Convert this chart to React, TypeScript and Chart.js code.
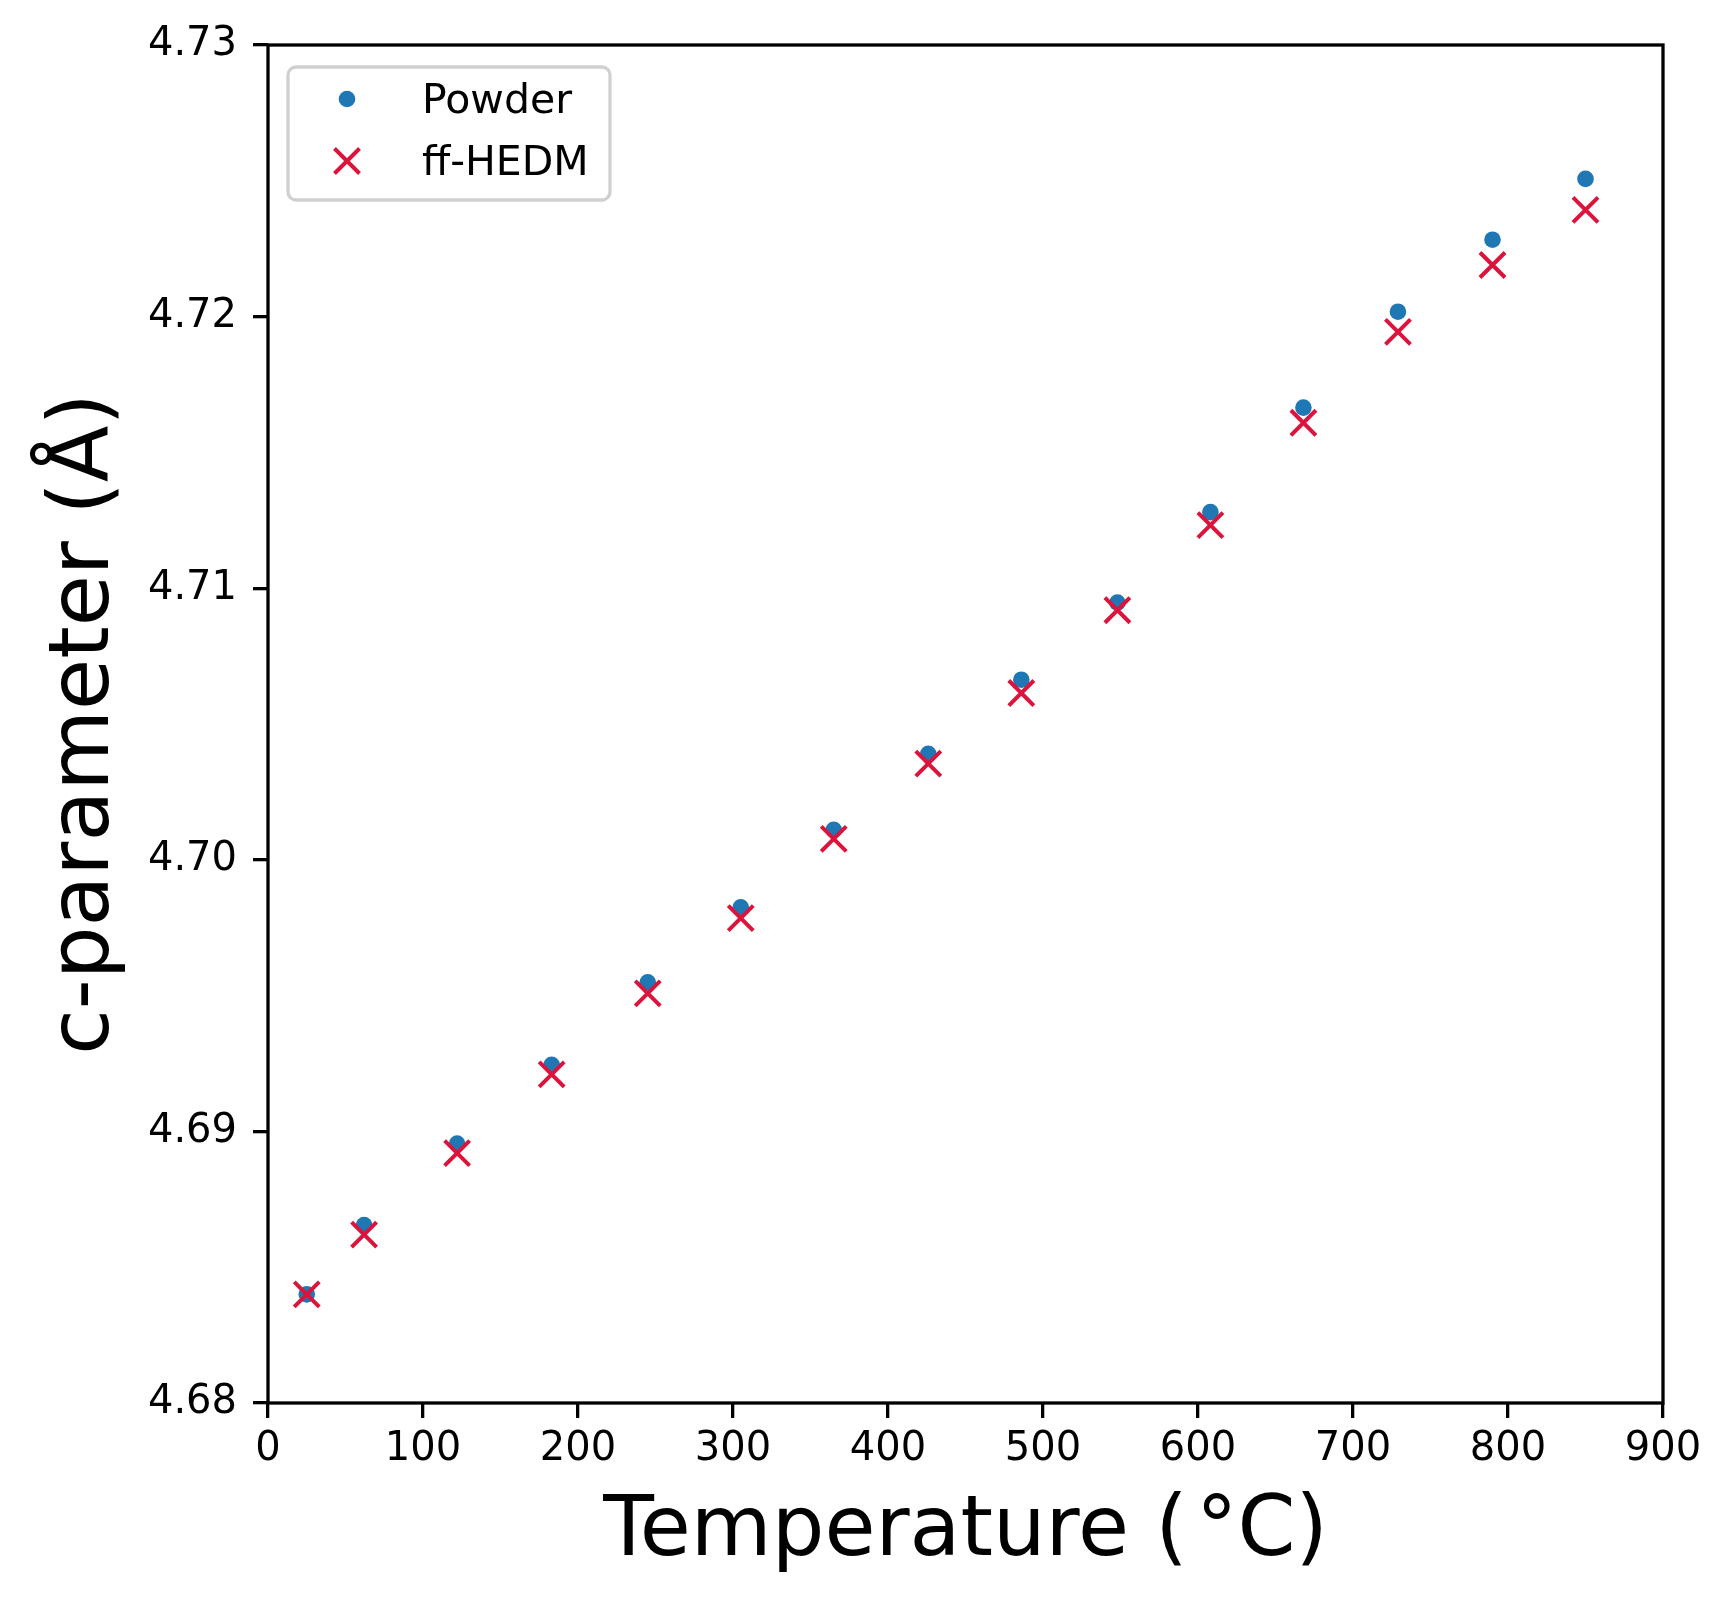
import React, { useEffect, useRef } from 'react'
import { Chart, registerables, Plugin } from 'chart.js'

Chart.register(...registerables)

Chart.defaults.font.family = '"DejaVu Sans", sans-serif'
Chart.defaults.color = '#000'

// temperature (°C) of each measurement
const temperatures = [25, 62, 122, 183, 245, 305, 365, 426, 486, 548, 608, 668, 729, 790, 850]

// c lattice parameter (Å)
const powder = [
  4.6840, 4.68655, 4.68955, 4.69245, 4.69549, 4.69825, 4.70110, 4.70390,
  4.70663, 4.70947, 4.71280, 4.71665, 4.72018, 4.72283, 4.72507,
]
const ffHedm = [
  4.6840, 4.68620, 4.68920, 4.69210, 4.69508, 4.69785, 4.70077, 4.70354,
  4.70614, 4.70919, 4.71232, 4.71609, 4.71944, 4.72190, 4.72393,
]

const xTicks = [0, 100, 200, 300, 400, 500, 600, 700, 800, 900]
const yTicks = [4.68, 4.69, 4.70, 4.71, 4.72, 4.73]

const W = 1732
const H = 1605
const LINE = 3.3

// axes box + legend drawn like matplotlib
const framePlugin: Plugin<'scatter'> = {
  id: 'frame',
  afterDatasetsDraw (chart) {
    const { ctx, chartArea } = chart
    ctx.save()
    ctx.strokeStyle = '#000'
    ctx.lineWidth = LINE
    ctx.strokeRect(chartArea.left, chartArea.top, chartArea.right - chartArea.left, chartArea.bottom - chartArea.top)

    // legend
    const bx = chartArea.left + 20
    const by = chartArea.top + 22
    const bw = 322
    const bh = 133
    ctx.beginPath()
    ctx.roundRect(bx, by, bw, bh, 8)
    ctx.fillStyle = 'rgba(255,255,255,0.8)'
    ctx.fill()
    ctx.strokeStyle = '#d0d0d0'
    ctx.lineWidth = LINE
    ctx.stroke()

    ctx.font = '41px "DejaVu Sans", sans-serif'
    ctx.textBaseline = 'middle'
    ctx.textAlign = 'left'
    chart.data.datasets.forEach((ds: any, i) => {
      const cy = by + 32 + i * 62
      const cx = bx + 59
      if (ds.pointStyle === 'circle') {
        ctx.beginPath()
        ctx.arc(cx, cy, ds.pointRadius, 0, Math.PI * 2)
        ctx.fillStyle = ds.backgroundColor
        ctx.fill()
      } else {
        const h = ds.pointRadius * Math.SQRT1_2
        ctx.beginPath()
        ctx.moveTo(cx - h, cy - h)
        ctx.lineTo(cx + h, cy + h)
        ctx.moveTo(cx - h, cy + h)
        ctx.lineTo(cx + h, cy - h)
        ctx.strokeStyle = ds.borderColor
        ctx.lineWidth = ds.borderWidth
        ctx.stroke()
      }
      ctx.fillStyle = '#000'
      ctx.fillText(ds.label, bx + 134, cy + 3)
    })
    ctx.restore()
  },
}

export default function App () {
  const canvasRef = useRef<HTMLCanvasElement>(null)
  const chartRef = useRef<Chart<'scatter'> | null>(null)

  useEffect(() => {
    document.body.style.margin = '0'
    if (chartRef.current) chartRef.current.destroy()
    if (!canvasRef.current) return

    chartRef.current = new Chart(canvasRef.current, {
      type: 'scatter',
      data: {
        datasets: [
          {
            label: 'Powder',
            data: temperatures.map((t, i) => ({ x: t, y: powder[i] })),
            pointStyle: 'circle',
            pointRadius: 8.3,
            pointHoverRadius: 8.3,
            backgroundColor: '#1f77b4',
            borderColor: '#1f77b4',
            borderWidth: 0,
            order: 1,
          },
          {
            label: 'ff-HEDM',
            data: temperatures.map((t, i) => ({ x: t, y: ffHedm[i] })),
            pointStyle: 'crossRot',
            pointRadius: 17.7,
            pointHoverRadius: 17.7,
            backgroundColor: '#dc143c',
            borderColor: '#dc143c',
            borderWidth: 4,
            order: 0,
          },
        ],
      },
      options: {
        responsive: false,
        animation: false,
        layout: { padding: { left: 0, top: 45, right: W - 1663, bottom: 0 } },
        plugins: {
          legend: { display: false },
          tooltip: { enabled: false },
        },
        scales: {
          x: {
            type: 'linear',
            min: 0,
            max: 900,
            afterFit: (scale) => { scale.height = H - 1403 },
            afterBuildTicks: (scale) => { scale.ticks = xTicks.map(v => ({ value: v })) },
            ticks: { font: { size: 40 }, padding: 8, color: '#000' },
            grid: { drawOnChartArea: false, drawTicks: true, tickLength: 15, tickWidth: LINE, lineWidth: LINE, tickColor: '#000', color: '#000' },
            border: { display: false },
            title: {
              display: true,
              text: 'Temperature (\u200a°C)',
              font: { size: 83 },
              padding: { top: 0, bottom: 22 },
              color: '#000',
            },
          },
          y: {
            type: 'linear',
            min: 4.68,
            max: 4.73,
            afterFit: (scale) => { scale.width = 268 },
            afterBuildTicks: (scale) => { scale.ticks = yTicks.map(v => ({ value: v })) },
            ticks: {
              font: { size: 40 },
              padding: 16,
              color: '#000',
              callback: (v) => Number(v).toFixed(2),
            },
            grid: { drawOnChartArea: false, drawTicks: true, tickLength: 15, tickWidth: LINE, lineWidth: LINE, tickColor: '#000', color: '#000' },
            border: { display: false },
            title: {
              display: true,
              text: 'c-parameter (Å)',
              font: { size: 83 },
              padding: { top: 37, bottom: 0 },
              color: '#000',
            },
          },
        },
      },
      plugins: [framePlugin],
    })

    return () => {
      if (chartRef.current) {
        chartRef.current.destroy()
        chartRef.current = null
      }
    }
  }, [])

  return (
    <div style={{ width: W, height: H, background: '#fff' }}>
      <canvas ref={canvasRef} width={W} height={H} style={{ display: 'block' }} />
    </div>
  )
}
